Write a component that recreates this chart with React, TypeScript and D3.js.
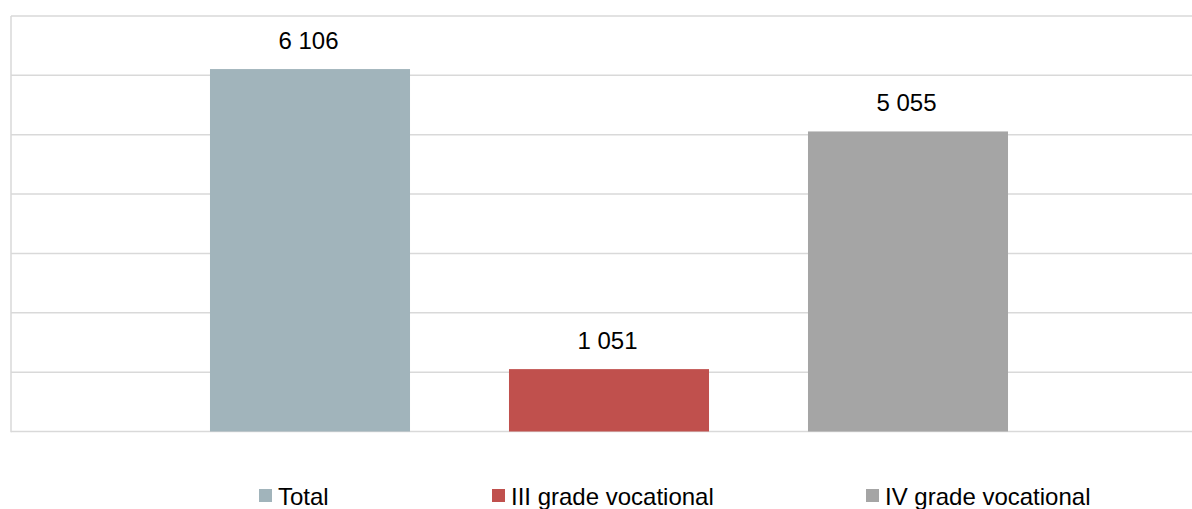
import { useEffect, useRef } from 'react';
import * as d3 from 'd3';

const categories = ['Total', 'III grade vocational', 'IV grade vocational'];
const values = [6106, 1051, 5055];
const colors = ['#A1B4BB', '#C0504D', '#A5A5A5'];
const yTicks = [0, 1000, 2000, 3000, 4000, 5000, 6000, 7000];

const fmt = (v: number) => d3.format(',')(v).replace(/,/g, ' ');

export default function App() {
  const svgRef = useRef<SVGSVGElement>(null);

  useEffect(() => {
    if (!svgRef.current) return;
    document.body.style.margin = '0';

    const svg = d3.select(svgRef.current);
    svg.selectAll('*').remove();

    const width = 1192;
    const height = 509;
    const plot = { left: 11, right: 1207, top: 16, bottom: 431.5 };
    const font = '"Liberation Sans", Arial, sans-serif';

    svg.attr('width', width).attr('height', height);

    const y = d3.scaleLinear()
      .domain([0, 7000])
      .range([plot.bottom, plot.top]);

    const x = d3.scaleBand<string>()
      .domain(categories)
      .range([plot.left, plot.right])
      .paddingInner(0.331)
      .paddingOuter(0.6655);

    // grid lines
    svg.append('g')
      .selectAll('line')
      .data(yTicks)
      .enter()
      .append('line')
      .attr('x1', plot.left)
      .attr('x2', plot.right)
      .attr('y1', d => y(d))
      .attr('y2', d => y(d))
      .style('stroke', '#D9D9D9')
      .style('stroke-width', 1.5);

    // left axis line
    svg.append('line')
      .attr('x1', plot.left)
      .attr('x2', plot.left)
      .attr('y1', plot.top)
      .attr('y2', plot.bottom + 0.75)
      .style('stroke', '#D9D9D9')
      .style('stroke-width', 1.5);

    // bars
    svg.append('g')
      .selectAll('rect')
      .data(categories)
      .enter()
      .append('rect')
      .attr('x', d => x(d)!)
      .attr('width', x.bandwidth())
      .attr('y', (_, i) => y(values[i]))
      .attr('height', (_, i) => y(0) - y(values[i]))
      .style('fill', (_, i) => colors[i]);

    // value labels
    svg.append('g')
      .selectAll('text')
      .data(categories)
      .enter()
      .append('text')
      .attr('x', d => x(d)! + x.bandwidth() / 2 - 1.5)
      .attr('y', (_, i) => y(values[i]) - 20)
      .attr('text-anchor', 'middle')
      .style('font-family', font)
      .style('font-size', '24px')
      .style('fill', '#000')
      .text((_, i) => fmt(values[i]));

    // legend
    const legendX = [259, 492, 866];
    const legend = svg.append('g')
      .selectAll('g')
      .data(categories)
      .enter()
      .append('g')
      .attr('transform', (_, i) => `translate(${legendX[i]},0)`);

    legend.append('rect')
      .attr('x', 0)
      .attr('y', 489)
      .attr('width', 13)
      .attr('height', 13)
      .style('fill', (_, i) => colors[i]);

    legend.append('text')
      .attr('x', 19)
      .attr('y', 504.5)
      .style('font-family', font)
      .style('font-size', '24px')
      .style('fill', '#000')
      .text(d => d);
  }, []);

  return <svg ref={svgRef} style={{ display: 'block' }} />;
}
